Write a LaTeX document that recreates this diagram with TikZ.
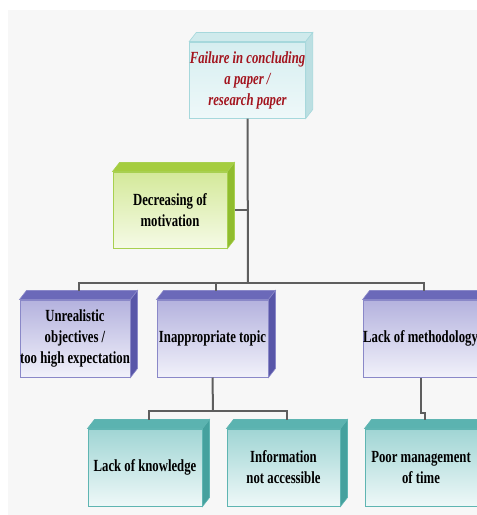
\documentclass[tikz,border=0pt]{standalone}
\usepackage{fontspec}
\newfontfamily\boxfont{Liberation Serif}[FakeStretch=0.75]
\definecolor{bgfill}{HTML}{F7F7F7}
\definecolor{wire}{HTML}{5E5E5E}
\definecolor{titletext}{HTML}{A3141E}
\definecolor{cyantop}{HTML}{D6EEF0}\definecolor{cyanbot}{HTML}{EEF8F9}
\definecolor{cyanroof}{HTML}{CFEAEC}\definecolor{cyanside}{HTML}{BCDFE2}\definecolor{cyanline}{HTML}{A6D8DC}
\definecolor{greentop}{HTML}{D4E99A}\definecolor{greenbot}{HTML}{F5FAE6}
\definecolor{greenroof}{HTML}{A5CD3F}\definecolor{greenside}{HTML}{90BC2E}\definecolor{greenline}{HTML}{A8D050}
\definecolor{purpletop}{HTML}{B4B2DE}\definecolor{purplebot}{HTML}{F1F1FA}
\definecolor{purpleroof}{HTML}{6B69B9}\definecolor{purpleside}{HTML}{5856A8}\definecolor{purpleline}{HTML}{8A88C8}
\definecolor{tealtop}{HTML}{A0D5D4}\definecolor{tealbot}{HTML}{EEF8F8}
\definecolor{tealroof}{HTML}{5BB3B0}\definecolor{tealside}{HTML}{45A19E}\definecolor{tealline}{HTML}{5FB5B2}
\tikzset{front/.style={rectangle,inner sep=0pt,align=center,line width=1pt,
    font=\boxfont\bfseries\fontsize{17}{21}\selectfont},
  link/.style={draw=wire,line width=2pt}}
\newcommand{\blocknode}[7]{%
  \node[front,minimum width=#4pt,minimum height=#5pt,top color=#6top,bottom color=#6bot,draw=#6line] (#1) at (#2,#3) {#7};
  \filldraw[#6roof,draw=#6line,line width=0.6pt] (#1.north west) -- ++(7,-9) -- ([shift={(7,-9)}]#1.north east) -- (#1.north east) -- cycle;
  \filldraw[#6side,draw=#6line,line width=0.6pt] (#1.north east) -- ++(7,-9) -- ([shift={(7,-9)}]#1.south east) -- (#1.south east) -- cycle;
  \coordinate (#1-roof) at ([shift={(3.5,-9)}]#1.north);
}

\begin{document}
\begin{tikzpicture}[x=1pt,y=-1pt]
	\useasboundingbox (0,0) rectangle (477,515);
	\fill[bgfill] (8,10) rectangle (477,515);
	\blocknode{top}{247.5}{80}{111}{76}{cyan}{\color{titletext}\itshape Failure in concluding\\\color{titletext}\itshape a paper /\\\color{titletext}\itshape research paper}
	\blocknode{decr}{170}{210}{114}{76}{green}{Decreasing of\\motivation}
	\blocknode{unreal}{75}{338.5}{110}{77}{purple}{Unrealistic\\objectives /\\too high expectation}
	\blocknode{inapp}{212.5}{338.5}{111}{77}{purple}{Inappropriate topic}
	\blocknode{method}{420.5}{338.5}{111}{77}{purple}{Lack of methodology}
	\blocknode{know}{145}{467.5}{114}{77}{teal}{Lack of knowledge}
	\blocknode{info}{283.5}{467.5}{113}{77}{teal}{Information\\not accessible}
	\blocknode{poor}{421}{467.5}{112}{77}{teal}{Poor management\\of time}
	\coordinate (bus1) at (248,283);
	\coordinate (bus2) at (213,411);
	\draw[link] (top.south) -- (bus1);
	\draw[link] ([xshift=7pt]decr.east) -- (decr.east -| bus1);
	\draw[link] (unreal-roof) |- (bus1) -| (method-roof);
	\draw[link] (inapp-roof) -- (inapp-roof |- bus1);
	\draw[link] (inapp.south) -- (bus2);
	\draw[link] (know-roof) |- (bus2) -| (info-roof);
	\draw[link] (method.south) -- ++(0,35) -| (poor-roof);
\end{tikzpicture}
\end{document}
